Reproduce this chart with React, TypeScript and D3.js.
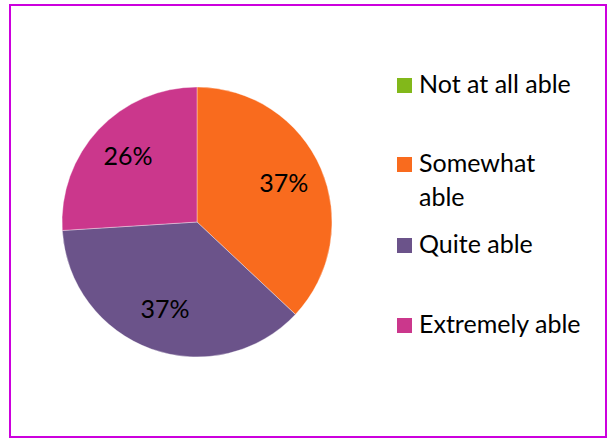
import React from "react";
import * as d3 from "d3";

const categories = ["Not at all able", "Somewhat able", "Quite able", "Extremely able"];
const legendLines = [["Not at all able"], ["Somewhat", "able"], ["Quite able"], ["Extremely able"]];
const values = [0, 37, 37, 26];
const colors = ["#82B81A", "#F96B1E", "#6B538A", "#CB378C"];

const W = 607;
const H = 439;
const FONT = "Lato, 'Open Sans', sans-serif";

export default function App() {
  const cx = 197;
  const cy = 222;
  const R = 135;
  const pie = d3.pie<number>().sort(null).value((d) => d);
  const arcs = pie(values);
  const arc = d3.arc<d3.PieArcDatum<number>>().innerRadius(0).outerRadius(R);
  const labelArc = d3.arc<d3.PieArcDatum<number>>().innerRadius(R * 0.7).outerRadius(R * 0.7);
  const total = d3.sum(values);

  const legendYs = [93, 172, 253, 333];

  return (
    <svg width={W} height={H} style={{ position: "absolute", left: 0, top: 0 }} fontFamily={FONT}>
      <rect x={0} y={0} width={W} height={H} fill="#fff" />
      <rect x={10} y={5} width={596} height={432} fill="none" stroke="#CC00DD" strokeWidth={2} />
      <g transform={`translate(${cx},${cy})`}>
        {arcs.map((a, i) =>
          a.value > 0 ? (
            <path key={i} d={arc(a) || ""} fill={colors[i]} stroke="#fff" strokeWidth={0.6} strokeOpacity={0.6} />
          ) : null
        )}
        {arcs.map((a, i) => {
          if (a.value <= 0) return null;
          const [x, y] = labelArc.centroid(a);
          return (
            <text key={i} x={x} y={y} textAnchor="middle" dy="0.3em" fontSize={25} fill="#000">
              {`${Math.round((a.value / total) * 100)}%`}
            </text>
          );
        })}
      </g>
      {categories.map((c, i) => {
        const base = legendYs[i];
        return (
          <g key={c}>
            <rect x={397} y={base - 15} width={15} height={15} fill={colors[i]} />
            {legendLines[i].map((line, j) => (
              <text key={j} x={419} y={base + j * 34} fontSize={25} fill="#000">
                {line}
              </text>
            ))}
          </g>
        );
      })}
    </svg>
  );
}
